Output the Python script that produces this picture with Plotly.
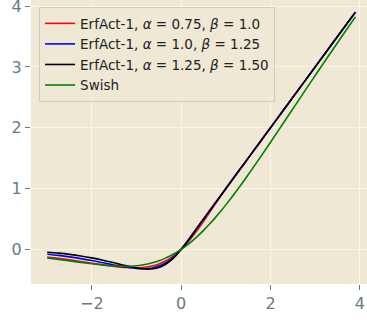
import plotly.graph_objects as go

x = [-3, -2.75, -2.5, -2.25, -2, -1.75, -1.5, -1.25, -1, -0.875, -0.75, -0.625,
     -0.5, -0.375, -0.25, -0.125, 0, 0.125, 0.25, 0.375, 0.5, 0.625, 0.75, 0.875,
     1, 1.25, 1.5, 1.75, 2, 2.25, 2.5, 2.75, 3, 3.25, 3.5, 3.75, 3.9]

erfact_a075_b10 = [-0.1264, -0.1487, -0.1734, -0.2003, -0.2283, -0.2559, -0.2806, -0.2985,
                   -0.3036, -0.2989, -0.2877, -0.2686, -0.2400, -0.2002, -0.1478, -0.0813,
                   0.0, 0.0963, 0.2067, 0.3290, 0.4596, 0.5953, 0.7314, 0.8654,
                   0.9958, 1.2497, 1.5, 1.75, 2.0, 2.25, 2.5, 2.75, 3.0, 3.25, 3.5, 3.75, 3.9]

erfact_a10_b125 = [-0.0796, -0.0997, -0.1239, -0.1523, -0.1848, -0.2206, -0.2576, -0.2914,
                   -0.3146, -0.3187, -0.3152, -0.3017, -0.2752, -0.2340, -0.1747, -0.0967,
                   0.0, 0.1127, 0.2366, 0.3660, 0.4959, 0.6237, 0.7498, 0.875,
                   1.0, 1.25, 1.5, 1.75, 2.0, 2.25, 2.5, 2.75, 3.0, 3.25, 3.5, 3.75, 3.9]

erfact_a125_b150 = [-0.0470, -0.0627, -0.0829, -0.1085, -0.1403, -0.1783, -0.2217, -0.2671,
                    -0.3067, -0.3200, -0.3255, -0.3195, -0.2982, -0.2573, -0.1939, -0.1072,
                    0.0, 0.1209, 0.2475, 0.3743, 0.4999, 0.625, 0.75, 0.875,
                    1.0, 1.25, 1.5, 1.75, 2.0, 2.25, 2.5, 2.75, 3.0, 3.25, 3.5, 3.75, 3.9]

swish = [-0.1423, -0.1652, -0.1897, -0.2145, -0.2384, -0.2591, -0.2736, -0.2784,
         -0.2689, -0.2574, -0.2406, -0.2179, -0.1888, -0.1527, -0.1095, -0.0586,
         0.0, 0.0664, 0.1405, 0.2223, 0.3112, 0.4071, 0.5094, 0.6176,
         0.7311, 0.9716, 1.2264, 1.4909, 1.7616, 2.0355, 2.3103, 2.5848, 2.8577,
         3.1287, 3.3974, 3.6638, 3.8226]

series_names = [
    "ErfAct-1, <i>α</i> = 0.75, <i>β</i> = 1.0",
    "ErfAct-1, <i>α</i> = 1.0, <i>β</i> = 1.25",
    "ErfAct-1, <i>α</i> = 1.25, <i>β</i> = 1.50",
    "Swish",
]
series_values = [erfact_a075_b10, erfact_a10_b125, erfact_a125_b150, swish]
series_colors = ["#ff0000", "#0000ff", "#000000", "#008000"]

x_ticks = [-2, 0, 2, 4]
x_tick_labels = ["−2", "0", "2", "4"]
y_ticks = [0, 1, 2, 3, 4]
y_tick_labels = ["0", "1", "2", "3", "4"]

fig = go.Figure()
for name, vals, col in zip(series_names, series_values, series_colors):
    fig.add_trace(go.Scatter(x=x, y=vals, mode="lines", name=name,
                             line=dict(color=col, width=1.6, shape="spline")))

tick_color = "#657b83"
fig.update_layout(
    width=367, height=324,
    margin=dict(l=31, r=0, t=0, b=40),
    paper_bgcolor="white",
    plot_bgcolor="#eee8d5",
    font=dict(family="DejaVu Sans", color=tick_color),
    showlegend=True,
    legend=dict(x=0.024, y=0.975, xanchor="left", yanchor="top",
                bgcolor="rgba(238,232,213,0.85)", bordercolor="#cccccc", borderwidth=1,
                font=dict(family="DejaVu Sans", size=13.5, color="#222222"),
                tracegroupgap=0),
    xaxis=dict(range=[-3.363, 4.16], tickvals=x_ticks, ticktext=x_tick_labels,
               showgrid=True, gridcolor="#fdf6e3", gridwidth=1.2, zeroline=False,
               ticks="outside", ticklen=5, tickcolor=tick_color, automargin=False,
               ticklabeloverflow="allow",
               tickfont=dict(size=16, color=tick_color), showline=False),
    yaxis=dict(range=[-0.57, 4.10], tickvals=y_ticks, ticktext=y_tick_labels,
               showgrid=True, gridcolor="#fdf6e3", gridwidth=1.2, zeroline=False,
               ticks="outside", ticklen=5, tickcolor=tick_color, automargin=False,
               ticklabeloverflow="allow",
               tickfont=dict(size=16, color=tick_color), showline=False),
)

fig.write_html("out.html", config={"displayModeBar": False},
               post_script="document.body.style.margin='0';document.body.style.overflow='hidden';")
